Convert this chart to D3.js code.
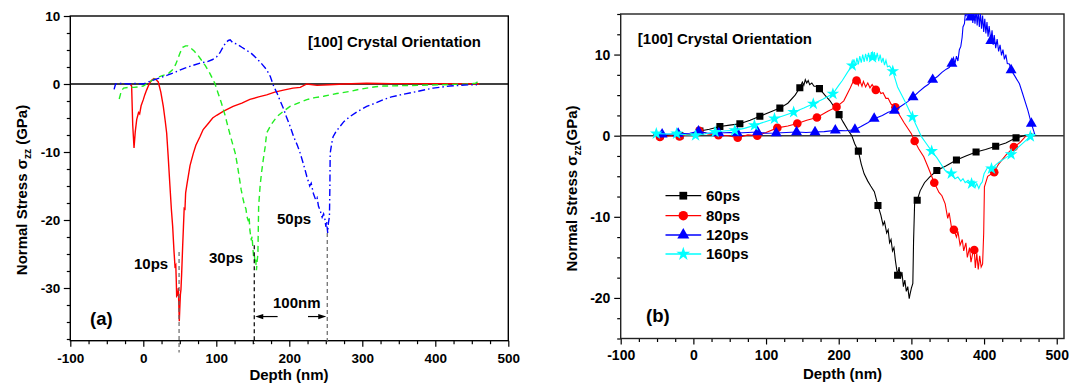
<!DOCTYPE html>
<html><head><meta charset="utf-8">
<script src="https://cdn.jsdelivr.net/npm/d3@7"></script>
<style>
body{margin:0;background:#fff}
svg{display:block}
text{font-family:"Liberation Sans",Arial,Helvetica,sans-serif;font-weight:bold;fill:#000}
</style>
</head><body>
<svg id="c" width="1069" height="385"></svg>
<script>
// ---------------- DATA ----------------
// Panel (a): depth (nm), normal stress (GPa)
const seriesA = ["10ps", "30ps", "50ps"];
const a10 = [[-18,0],[-16,-0.3],[-14.5,-6],[-12.7,-9.4],[-11,-7],[-9,-5.2],[-7.5,-4.6],[-6.5,-4.2],[-5,-4.4],[-3,-3.2],[0,-2.3],[2,-1.6],[4.5,-0.9],[8,0],[11,0.5],[14.6,0.8],[17,0.7],[20.5,0.3],[24,-1.2],[27.4,-3.3],[30,-5.4],[32,-7.2],[34,-10.5],[36.5,-15],[38.5,-18.5],[40.2,-20.9],[42,-24.5],[43.4,-26.8],[44.5,-26.6],[45.2,-29],[45.7,-31.2],[47,-31],[48,-30],[49.3,-34.9],[50,-33],[50.8,-31],[51.6,-30.2],[52.5,-28],[53.2,-26],[53.9,-23.9],[55,-21],[56,-18.3],[57.1,-18.4],[58,-16],[60,-14.6],[61.6,-13.6],[64,-12],[66,-11.2],[68.5,-10.2],[72,-9],[77.6,-7.75],[82,-6.7],[89,-5.8],[95,-5],[100.5,-4.6],[110,-4],[123,-3.3],[135,-2.8],[146,-2.26],[158,-1.9],[169,-1.6],[180,-1.2],[192,-0.9],[205,-0.6],[215,-0.5],[224,0],[238,-0.2],[255,-0.1],[275,0],[306,0.1],[340,0.05],[380,0.05],[420,0.05],[460,0]];
const a30 = [[-33,-2.2],[-30,-1],[-27,-0.6],[-20,-0.5],[-13,-0.5],[-5,-0.4],[0,-0.3],[7,0.2],[14.6,0.7],[20,1],[28,1.3],[35,1.6],[40,2.1],[44,2.8],[47,3.6],[50,4.5],[54,5.4],[58,5.6],[61,5.6],[65,5.3],[70,4.8],[75,4.2],[79,3.6],[85,2.7],[91,1.6],[98,0.1],[102,-1.2],[107,-2.8],[112,-4.6],[116,-6.3],[121,-8.3],[126,-10.2],[129,-12],[132,-14.1],[134,-15.5],[136,-16.6],[139,-18],[140.5,-18.3],[142,-19.5],[144,-20.2],[145,-19.6],[146,-21.5],[148,-23],[149,-22.4],[150,-24],[151,-25.3],[152,-25],[153,-26.3],[154,-25.8],[155,-27.4],[156,-26],[157,-25],[157.5,-21.5],[158,-18],[160,-15],[162,-13],[164.5,-11],[167,-9.2],[169,-7.2],[175,-6],[183,-4.8],[192,-4],[201,-3.3],[212,-2.8],[224,-2.3],[235,-2],[247,-1.8],[265,-1.4],[283,-1.1],[295,-0.8],[306,-0.6],[318,-0.4],[329,-0.3],[350,-0.25],[375,-0.2],[410,-0.1],[443,0],[455,0.1],[459,0.4]];
const a50 = [[-40,-0.8],[-38,0],[-30,0.1],[-20,0],[-10,0.1],[0,0],[7,0.3],[14.6,0.6],[25,1],[33,1.3],[45,1.8],[56,2.3],[67,2.7],[79,3.1],[88,3.3],[95,3.6],[100.5,4],[105,4.6],[109.6,5.5],[113,6.1],[116.5,6.4],[119,6.5],[123,6.0],[128,5.9],[135,5.4],[141,5.0],[148,4.5],[155,3.8],[162,3.0],[169,2.1],[174,1.1],[178,-0.15],[183,-1.3],[187,-2.35],[192,-3.6],[196,-4.8],[201,-6.2],[206,-7.75],[211,-9],[215,-10.2],[220,-12],[224,-13.6],[228,-15],[230,-14.6],[233,-16.1],[236,-17],[238,-16.7],[240,-18],[242,-18.5],[245,-19.6],[247,-19.1],[249,-20],[250,-21],[251,-20.2],[252.6,-21.9],[253.5,-20.5],[255,-19.5],[255.6,-15],[256,-10.2],[258,-8.8],[260,-7.75],[264,-7],[269,-6.3],[275,-5.5],[283,-4.8],[294,-4],[306,-3.3],[318,-2.8],[329,-2.3],[340,-1.9],[352,-1.6],[375,-1.1],[397,-0.6],[420,-0.3],[440,-0.15],[457,-0.1]];
const guideDepths = [49, 152, 252];   // stress-peak depths marked by dashed lines

// Panel (b)
const seriesB = ["60ps", "80ps", "120ps", "160ps"];
const b60 = [[-55,0.1],[-46,0],[-30,0.05],[-18.5,0],[-5,0.1],[9,0.57],[22,0.8],[36.5,1.14],[50,1.3],[64,1.47],[78,1.9],[91.5,2.4],[105,2.9],[119,3.4],[130,4],[140,5],[146.5,5.9],[150,6.6],[152,6.2],[154,6.9],[156,6.5],[158,6.8],[160,6.3],[163,6.5],[166,6.1],[170,6.1],[173.5,5.8],[181,5],[188,4.3],[194,3.5],[200.5,2.6],[206,1.7],[212,0.8],[218,0],[222,-1],[227,-1.9],[231,-3.5],[235,-4.7],[240,-5.6],[244,-6.2],[249,-6.9],[254,-8.6],[258,-9.8],[261,-11],[263,-10.6],[266,-12],[268,-11.6],[270,-13.2],[272,-12.8],[274,-14.2],[276,-13.8],[278,-15.4],[281,-17.2],[283,-16.2],[285,-17.6],[287,-16.8],[289,-18.6],[291,-17.8],[293,-19.2],[295,-18.6],[297,-20.1],[298,-19.6],[300,-18.8],[302,-18.2],[303,-13],[304.5,-8.2],[308,-7.95],[312,-6.8],[318,-5.8],[325,-5.1],[335,-4.3],[348,-3.7],[362,-3],[375,-2.5],[389,-2],[402,-1.7],[416,-1.3],[430,-0.9],[444,-0.27],[455,0],[465,0.1]];
const b80 = [[-55,0.1],[-46,-0.15],[-30,0],[-19,-0.1],[0,0.2],[8,0.6],[20,0.2],[34.5,0.05],[48,0],[61,-0.25],[75,0.1],[88,0],[100,0.4],[115.5,0.96],[130,1.2],[143,1.5],[156,1.9],[170,2.24],[185,3],[197,3.55],[207,4.3],[216,5.9],[222,7.1],[224.5,6.8],[227,6.2],[229,6.8],[232,6.1],[234,6.7],[237,6],[240,6.5],[243,5.9],[246,6.3],[251,5.65],[255,5.7],[258,5.2],[261,5.3],[265,4.6],[268,4.6],[272,3.9],[278,3.5],[281.3,2.9],[290,1.6],[300,0.25],[304.5,-0.66],[310,-1.6],[317,-2.6],[323,-3.9],[331.5,-5.8],[338,-7],[342,-7.4],[346.5,-8.4],[350,-10.2],[352,-9.5],[355,-11.2],[358.5,-11.6],[362,-12.5],[364,-11.8],[367,-13.5],[370,-12.8],[372,-14.2],[375,-13.2],[377,-15],[380,-13.8],[382,-15.6],[385,-14.2],[386.5,-14.1],[388,-16.3],[390,-14.5],[392,-16.5],[394,-14.8],[396,-16.2],[398,-15.8],[399.5,-12],[400.5,-6.3],[405,-5],[414,-4.5],[420,-3.5],[430,-2.4],[441,-1.4],[450,-0.8],[458,0],[466,0.3]];
const b120 = [[-55,0.2],[-43,0.16],[-30,0.2],[-21,0.25],[-5,0.3],[7,0.53],[20,0.3],[35,0.33],[50,0.4],[60.5,0.33],[75,0.4],[88.4,0.45],[100,0.3],[114,0.33],[128,0.4],[142,0.45],[155,0.4],[167.4,0.45],[180,0.5],[195.3,0.66],[210,0.6],[222.3,0.74],[230,1.1],[240,1.6],[248.8,2.1],[260,2.5],[268,2.9],[276.7,3.1],[285,3.6],[295,4.2],[302.3,4.75],[310,5.4],[318,6],[323,6.3],[329.3,6.9],[336,7.3],[342,7.8],[348,8.2],[352,8.4],[355.8,8.9],[358,9.6],[360,8.9],[362,9.8],[364,9.2],[366,10.6],[368,11],[369.8,12.1],[371,13.4],[373,13.8],[374,14.9],[375.3,14.8],[377,15.6],[378,14.4],[380,15.6],[381.4,14.6],[383,15.6],[384.5,13.9],[386,15.6],[387.5,13.8],[389,15.6],[390.5,13.6],[392,15.4],[393.5,13.4],[395,15.2],[396.5,13.2],[398,14.8],[399.5,12.8],[401,14.4],[402.5,12.6],[404,14],[405.5,12.2],[407,13.5],[409.3,11.7],[411,13],[412.5,11.2],[414,12.4],[416,10.8],[418,11.9],[420,10.4],[422,11.2],[424,9.9],[426,10.6],[428,9.4],[430,10],[432,8.9],[434.8,8.85],[437.2,8.1],[442,7.4],[448.7,6.4],[453,5.2],[460.4,3.1],[465.1,1.5],[469.7,0.2]];
const b160 = [[-55,0.3],[-51,0.25],[-35,0.2],[-23,0.25],[-10,0.1],[3,0.04],[15,0.2],[30,0.45],[45,0.6],[57,0.66],[70,0.9],[84,1.27],[98,1.7],[111.6,2.1],[125,2.5],[138,2.9],[152,3.4],[165,3.93],[178,4.5],[192,5.16],[200,6.2],[205,6.8],[212,7.8],[218.6,8.65],[221,9.4],[223,8.6],[225,9.6],[227,8.8],[229,9.8],[231,9],[233,10],[235,9.1],[237,10.1],[239,9.2],[241,10.2],[243,9.3],[245,10.3],[247,9.4],[249,10.3],[251,9.3],[253,10.2],[255,9.2],[257,10],[259,9],[261,9.6],[263,8.7],[265,9.3],[267,8.5],[270,8.6],[274.4,7.95],[281,6],[290.7,4.3],[301.4,2.3],[308,1],[314,-0.15],[320,-0.9],[327.9,-1.9],[335,-2.7],[346.5,-4.3],[354.9,-4.67],[360,-5.3],[364,-5.1],[368,-5.6],[371,-5.3],[374,-5.8],[378,-5.5],[382.8,-5.9],[386,-5.6],[388,-6.3],[390,-5.9],[392.8,-6.5],[395,-6],[397.5,-5.7],[400,-4.7],[405,-3.9],[410.2,-4.06],[420,-3.3],[430,-2.7],[437.2,-2.3],[445,-1.6],[455,-0.8],[463.7,-0.08],[468,0.3]];
// symbol positions
const m60 = [[-46,0],[-18.5,0],[9,0.57],[36.5,1.14],[64,1.47],[91.5,2.4],[119,3.4],[146.5,5.9],[173.5,5.8],[200.5,2.6],[227,-1.9],[254,-8.6],[281,-17.2],[308,-7.95],[335,-4.3],[362,-3],[389,-2],[416,-1.3],[444,-0.27]];
const m80 = [[-46,-0.15],[-19,-0.1],[8,0.6],[34.5,0.05],[61,-0.25],[88,0],[115.5,0.96],[143,1.5],[170,2.24],[197,3.55],[224.5,6.8],[251,5.65],[278,3.5],[304.5,-0.66],[331.5,-5.8],[358.5,-11.6],[386.5,-14.1],[414,-4.5],[441,-1.4]];
const m120 = [[-43,0.16],[-21,0.25],[7,0.53],[35,0.33],[60.5,0.33],[88.4,0.45],[114,0.33],[142,0.45],[167.4,0.45],[195.3,0.66],[222.3,0.74],[248.8,2.1],[276.7,3.1],[302.3,4.75],[329.3,6.9],[355.8,8.9],[381.4,14.6],[409.3,11.7],[437.2,8.1],[465.1,1.5]];
const m160 = [[-51,0.25],[-23,0.25],[3,0.04],[30,0.45],[57,0.66],[84,1.27],[111.6,2.1],[138,2.9],[165,3.93],[192,5.16],[218.6,8.65],[246.5,9.67],[274.4,7.95],[301.4,2.3],[327.9,-1.9],[354.9,-4.67],[382.8,-5.9],[410.2,-4.06],[437.2,-2.3],[463.7,-0.08]];

// Tick labels
const xTicks = [-100, 0, 100, 200, 300, 400, 500];
const yTicksA = [10, 0, -10, -20, -30];
const yTicksB = [10, 0, -10, -20];

// ---------------- DRAW ----------------
const svg = d3.select("#c");
const fmt = d => String(d);

function panel(o) {
  const x = d3.scaleLinear().domain(o.xDom).range([o.L, o.R]);
  const y = d3.scaleLinear().domain(o.yDom).range([o.B, o.T]);
  const g = svg.append("g");
  const cid = "clip" + o.id;
  svg.append("defs").append("clipPath").attr("id", cid)
    .append("rect").attr("x", o.L).attr("y", o.T).attr("width", o.R - o.L).attr("height", o.B - o.T);

  const xMinor = d3.range(-100, o.xDom[1] + 0.01, 25).filter(v => v % 100 !== 0);
  const yMinor = d3.range(Math.ceil(o.yDom[0] / 2.5) * 2.5, o.yDom[1] + 0.01, 2.5).filter(v => Math.abs(v % 10) > 0.01);
  g.append("g").attr("transform", `translate(0,${o.B})`)
    .call(d3.axisBottom(x).tickValues(xMinor).tickSize(3.5).tickFormat(""))
    .call(s => s.select(".domain").remove());
  g.append("g").attr("transform", `translate(${o.L},0)`)
    .call(d3.axisLeft(y).tickValues(yMinor).tickSize(3.5).tickFormat(""))
    .call(s => s.select(".domain").remove());
  const xa = g.append("g").attr("transform", `translate(0,${o.B})`)
    .call(d3.axisBottom(x).tickValues(xTicks).tickSize(6).tickPadding(o.xPad).tickFormat(fmt));
  xa.select(".domain").remove();
  xa.selectAll("text").attr("font-size", o.tickFont).style("font-family", '"Liberation Sans",Arial,sans-serif').style("font-weight", "bold");
  const ya = g.append("g").attr("transform", `translate(${o.L},0)`)
    .call(d3.axisLeft(y).tickValues(o.yTicks).tickSize(6.5).tickPadding(o.yPad).tickFormat(fmt));
  ya.select(".domain").remove();
  ya.selectAll("text").attr("font-size", o.tickFont).style("font-family", '"Liberation Sans",Arial,sans-serif').style("font-weight", "bold");
  g.selectAll(".tick line").attr("stroke", "#000").attr("stroke-width", 1.2);

  g.append("rect").attr("x", o.L).attr("y", o.T).attr("width", o.R - o.L).attr("height", o.B - o.T)
    .attr("fill", "none").attr("stroke", o.frameColor).attr("stroke-width", 1.4);
  g.append("line").attr("x1", o.L).attr("x2", o.R).attr("y1", y(0)).attr("y2", y(0))
    .attr("stroke", o.zeroColor).attr("stroke-width", 1.5);

  const plot = g.append("g").attr("clip-path", `url(#${cid})`);
  return { x, y, g, plot };
}

function yTitle(g, cx, cy, space) {
  const t = g.append("text").attr("transform", `translate(${cx},${cy}) rotate(-90)`)
    .attr("text-anchor", "middle").attr("font-size", 15);
  t.append("tspan").text("Normal Stress σ");
  t.append("tspan").attr("font-size", 10).attr("dy", 4).text("zz");
  t.append("tspan").attr("dy", -4).text(space ? " (GPa)" : "(GPa)");
}

// ---- Panel (a)
const A = panel({ id: "a", xDom: [-100, 500], yDom: [-37.75, 10], L: 70.3, R: 508.3, T: 16, B: 340.7,
  yTicks: yTicksA, tickFont: 13.5, xPad: 6.5, yPad: 3.5, frameColor: "#000", zeroColor: "#000" });
const lineA = d3.line().x(d => A.x(d[0])).y(d => A.y(d[1]));
const styleA = [
  { d: a10, c: "#ff0000", dash: null },
  { d: a30, c: "#22ee22", dash: "6,4" },
  { d: a50, c: "#0000ff", dash: "7,3,1.5,3" }
];
styleA.forEach(s => {
  A.plot.append("path").attr("d", lineA(s.d)).attr("fill", "none").attr("stroke", s.c)
    .attr("stroke-width", 1.4).attr("stroke-dasharray", s.dash);
});
const guideTop = [-24.7, -23.7, -21.9];
const guideBot = [-39.5, -38.2, -38.2];
const guideCol = ["#666", "#000", "#666"];
guideDepths.forEach((d, i) => {
  A.g.append("line").attr("x1", A.x(d)).attr("x2", A.x(d))
    .attr("y1", A.y(guideTop[i])).attr("y2", A.y(guideBot[i]))
    .attr("stroke", guideCol[i]).attr("stroke-width", 1.2).attr("stroke-dasharray", "4,3");
});
const arrY = A.y(-34.2);
function arrow(x1, x2) {
  const dir = Math.sign(x2 - x1);
  A.g.append("line").attr("x1", x1).attr("x2", x2 - dir * 6).attr("y1", arrY).attr("y2", arrY)
    .attr("stroke", "#000").attr("stroke-width", 1.2);
  A.g.append("path").attr("d", `M${x2},${arrY} L${x2 - dir * 8},${arrY - 2.6} L${x2 - dir * 8},${arrY + 2.6} Z`).attr("fill", "#000");
}
arrow(A.x(184), A.x(guideDepths[1]) + 1);
arrow(A.x(225.6), A.x(guideDepths[2]) - 1);

const labA = A.g.append("g").attr("font-size", 15);
labA.append("text").attr("x", 134).attr("y", 269).text(seriesA[0]);
labA.append("text").attr("x", 209).attr("y", 263).text(seriesA[1]);
labA.append("text").attr("x", 277).attr("y", 224).text(seriesA[2]);
labA.append("text").attr("x", 273).attr("y", 307.5).text("100nm");
A.g.append("text").attr("x", 90).attr("y", 325).attr("font-size", 18.5).text("(a)");
A.g.append("text").attr("x", 308).attr("y", 47).attr("font-size", 14.9).text("[100] Crystal Orientation");
A.g.append("text").attr("x", 289).attr("y", 380).attr("text-anchor", "middle").attr("font-size", 15).text("Depth (nm)");
yTitle(A.g, 26.5, 190, true);

// ---- Panel (b)
const B = panel({ id: "b", xDom: [-100, 510], yDom: [-25, 15], L: 620.7, R: 1064, T: 14, B: 338.5,
  yTicks: yTicksB, tickFont: 14, xPad: 5.5, yPad: 3.8, frameColor: "#222", zeroColor: "#3a3a3a" });
const lineB = d3.line().x(d => B.x(d[0])).y(d => B.y(d[1]));
const styleB = [
  { d: b60, m: m60, c: "#000000", sym: d3.symbolSquare, size: 50 },
  { d: b80, m: m80, c: "#ff0000", sym: d3.symbolCircle, size: 58 },
  { d: b120, m: m120, c: "#0000ff", sym: d3.symbolTriangle, size: 52 },
  { d: b160, m: m160, c: "#00ffff", sym: d3.symbolStar, size: 50 }
];
styleB.forEach(s => {
  B.plot.append("path").attr("d", lineB(s.d)).attr("fill", "none").attr("stroke", s.c).attr("stroke-width", 1.1);
  B.plot.selectAll(null).data(s.m).join("path")
    .attr("transform", d => `translate(${B.x(d[0])},${B.y(d[1])})`)
    .attr("d", d3.symbol(s.sym, s.size)).attr("fill", s.c);
});
const legRows = [195.7, 215.7, 235, 254];
styleB.forEach((s, i) => {
  const lg = B.g.append("g");
  lg.append("line").attr("x1", 665.5).attr("x2", 701.2).attr("y1", legRows[i]).attr("y2", legRows[i])
    .attr("stroke", s.c).attr("stroke-width", 1.3);
  lg.append("path").attr("transform", `translate(683.3,${legRows[i]})`).attr("d", d3.symbol(s.sym, s.size * 1.2)).attr("fill", s.c);
  lg.append("text").attr("x", 706).attr("y", legRows[i] + 5.3).attr("font-size", 15).text(seriesB[i]);
});
B.g.append("text").attr("x", 646).attr("y", 322).attr("font-size", 18.5).text("(b)");
B.g.append("text").attr("x", 637.8).attr("y", 44).attr("font-size", 15).text("[100] Crystal Orientation");
B.g.append("text").attr("x", 842.5).attr("y", 379).attr("text-anchor", "middle").attr("font-size", 15).text("Depth (nm)");
yTitle(B.g, 577, 188.5, false);
</script>
</body></html>
